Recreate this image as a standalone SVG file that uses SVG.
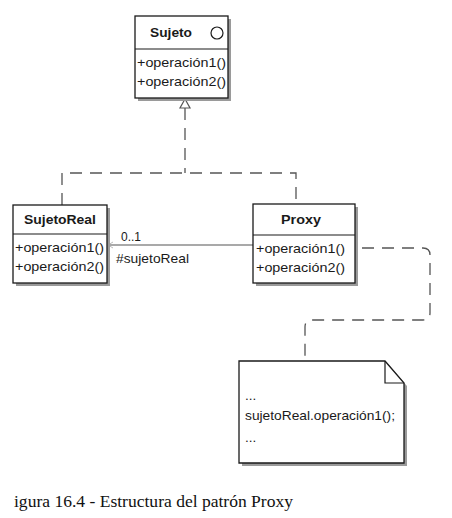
<svg xmlns="http://www.w3.org/2000/svg" width="452" height="518" viewBox="0 0 452 518">
<defs>
<style>
.box{fill:#fff;stroke:#1a1a1a;stroke-width:1.3}
.shadow{fill:#9a9a9a}
.div{stroke:#1a1a1a;stroke-width:1.2}
.t{font-family:"Liberation Sans",Arial,sans-serif;font-size:13.5px;fill:#1a1a1a}
.b{font-weight:bold;text-anchor:middle}
.dash{fill:none;stroke:#555;stroke-width:1.3;stroke-dasharray:12 8}
.line{fill:none;stroke:#555;stroke-width:1.2}
.cap{font-family:"Liberation Serif","Times New Roman",serif;font-size:17px;fill:#111}
</style>
</defs>
<rect width="452" height="518" fill="#fff"/>
<g id="connectors">
<path class="dash" d="M185,108 V173"/>
<path class="dash" d="M62,205 V173 H296 V204"/>
<polygon points="185,99 180,108 190,108" fill="#fff" stroke="#555" stroke-width="1.2"/>
<path class="line" d="M108,245 H253"/>
<path d="M113,242 L108,245 L113,248" fill="none" stroke="#bbb" stroke-width="1"/>
<path class="dash" d="M362,248 H423 Q430,248 430,255 V313 Q430,320 423,320 H312 Q305,320 305,327 V361"/>
<circle cx="352" cy="248" r="2.5" fill="#fff" stroke="#333" stroke-width="1"/>
<text class="t" x="121" y="241" textLength="20" lengthAdjust="spacingAndGlyphs">0..1</text>
<text class="t" x="116" y="263" textLength="73" lengthAdjust="spacingAndGlyphs">#sujetoReal</text>
</g>
<g id="Sujeto">
<rect class="shadow" x="138" y="19" width="93" height="82"/>
<rect class="box" x="135" y="16" width="93" height="82"/>
<line class="div" x1="135" y1="49" x2="228" y2="49"/>
<text class="t b" x="171" y="37" textLength="42" lengthAdjust="spacingAndGlyphs">Sujeto</text>
<circle cx="217" cy="33" r="6" fill="#fff" stroke="#1a1a1a" stroke-width="1.2"/>
<text class="t" x="137" y="67" textLength="89" lengthAdjust="spacingAndGlyphs">+operación1()</text>
<text class="t" x="137" y="86" textLength="89" lengthAdjust="spacingAndGlyphs">+operación2()</text>
</g>
<g id="SujetoReal">
<rect class="shadow" x="16" y="208" width="94" height="78"/>
<rect class="box" x="13" y="205" width="94" height="78"/>
<line class="div" x1="13" y1="234" x2="107" y2="234"/>
<text class="t b" x="60" y="224" textLength="72" lengthAdjust="spacingAndGlyphs">SujetoReal</text>
<text class="t" x="15" y="252" textLength="89" lengthAdjust="spacingAndGlyphs">+operación1()</text>
<text class="t" x="15" y="271" textLength="89" lengthAdjust="spacingAndGlyphs">+operación2()</text>
</g>
<g id="Proxy">
<rect class="shadow" x="256" y="207" width="102" height="79"/>
<rect class="box" x="253" y="204" width="102" height="79"/>
<line class="div" x1="253" y1="235" x2="355" y2="235"/>
<text class="t b" x="301" y="224" textLength="40" lengthAdjust="spacingAndGlyphs">Proxy</text>
<text class="t" x="256" y="253" textLength="89" lengthAdjust="spacingAndGlyphs">+operación1()</text>
<text class="t" x="256" y="272" textLength="89" lengthAdjust="spacingAndGlyphs">+operación2()</text>
</g>
<g id="Note">
<path class="shadow" d="M242,364 H388 L407,386 V466 H242 Z"/>
<path d="M239,361 H385 L404,383 V463 H239 Z" fill="#fff" stroke="#1a1a1a" stroke-width="1.3"/>
<path d="M385,361 V383 H404" fill="none" stroke="#1a1a1a" stroke-width="1.2"/>
<text class="t" x="245" y="400" fill="#666">...</text>
<text class="t" x="245" y="420" textLength="150" lengthAdjust="spacingAndGlyphs">sujetoReal.operación1();</text>
<text class="t" x="245" y="442" fill="#666">...</text>
</g>
<text class="cap" x="14" y="507" textLength="279" lengthAdjust="spacingAndGlyphs">igura 16.4 - Estructura del patrón Proxy</text>
</svg>
